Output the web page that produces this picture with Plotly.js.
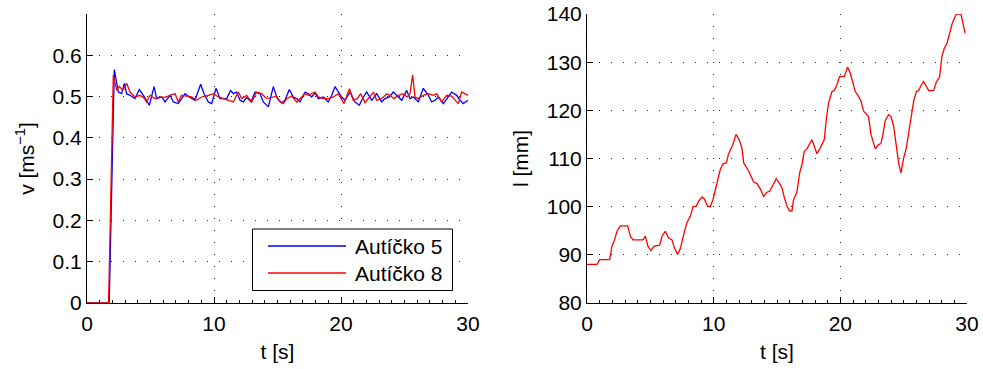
<!DOCTYPE html>
<html>
<head>
<meta charset="utf-8">
<script src="https://cdn.plot.ly/plotly-3.0.1.min.js"></script>
<style>
  html, body { margin: 0; padding: 0; background: #fff; }
  #chart { width: 983px; height: 369px; }
</style>
</head>
<body>
<div id="chart"></div>
<script>
// Car speed (left) and distance between cars (right) over time
const seriesNames = ['Autíčko 5', 'Autíčko 8'];

const tCar5 = [0, 1.75, 2.15, 2.47, 2.73, 2.94, 3.12, 3.39, 3.78, 4.12,
  4.44, 4.91, 5.28, 5.49, 5.88, 6.14, 6.54, 6.80, 7.19, 7.72,
  8.11, 8.50, 8.95, 9.21, 9.55, 9.82, 10.16, 10.47, 11.00, 11.31,
  11.52, 11.78, 12.05, 12.31, 12.57, 12.91, 13.23, 13.62, 13.88, 14.28,
  14.67, 14.99, 15.33, 15.59, 15.93, 16.25, 16.51, 16.77, 17.17, 17.43,
  17.69, 17.95, 18.22, 18.61, 19.00, 19.27, 19.53, 19.79, 20.05, 20.32,
  20.71, 21.10, 21.44, 21.76, 22.02, 22.42, 22.81, 23.20, 23.47, 23.81,
  24.12, 24.38, 24.78, 25.17, 25.43, 25.70, 26.09, 26.48, 26.88, 27.14,
  27.40, 27.66, 28.06, 28.45, 28.71, 29.11, 29.37, 29.63, 30.0];
const vCar5 = [0, 0, 0.565, 0.511, 0.507, 0.532, 0.507, 0.503, 0.495, 0.517,
  0.503, 0.479, 0.524, 0.495, 0.499, 0.487, 0.503, 0.487, 0.483, 0.507,
  0.498, 0.491, 0.530, 0.507, 0.487, 0.483, 0.520, 0.495, 0.495, 0.515,
  0.507, 0.511, 0.491, 0.487, 0.498, 0.487, 0.511, 0.507, 0.487, 0.475,
  0.524, 0.495, 0.485, 0.491, 0.517, 0.499, 0.495, 0.487, 0.511, 0.507,
  0.499, 0.509, 0.495, 0.499, 0.487, 0.503, 0.524, 0.511, 0.499, 0.491,
  0.511, 0.487, 0.479, 0.499, 0.511, 0.491, 0.507, 0.487, 0.495, 0.499,
  0.511, 0.503, 0.491, 0.515, 0.495, 0.499, 0.487, 0.520, 0.503, 0.487,
  0.491, 0.499, 0.483, 0.499, 0.511, 0.503, 0.491, 0.483, 0.491];

const tCar8 = [0, 1.7, 2.07, 2.34, 2.55, 2.81, 3.12, 3.39, 3.78, 4.17,
  4.44, 4.70, 4.96, 5.35, 5.75, 6.14, 6.54, 6.93, 7.19, 7.45,
  7.85, 8.24, 8.63, 9.03, 9.55, 9.95, 10.34, 10.74, 11.13, 11.52,
  11.92, 12.18, 12.57, 12.97, 13.36, 13.75, 14.15, 14.54, 14.93, 15.20,
  15.46, 15.72, 16.12, 16.51, 16.90, 17.17, 17.43, 17.69, 17.95, 18.22,
  18.61, 19.00, 19.40, 19.79, 20.24, 20.66, 20.97, 21.29, 21.55, 21.89,
  22.28, 22.55, 22.81, 23.20, 23.60, 23.86, 24.17, 24.51, 24.86, 25.22,
  25.43, 25.64, 25.83, 26.09, 26.48, 26.88, 27.27, 27.53, 27.93, 28.32,
  28.71, 28.98, 29.24, 29.50, 30.0];
const vCar8 = [0, 0, 0.552, 0.515, 0.525, 0.515, 0.532, 0.511, 0.499, 0.503,
  0.498, 0.487, 0.503, 0.495, 0.499, 0.498, 0.503, 0.507, 0.487, 0.503,
  0.501, 0.499, 0.491, 0.499, 0.503, 0.507, 0.499, 0.495, 0.491, 0.487,
  0.511, 0.495, 0.503, 0.487, 0.511, 0.507, 0.495, 0.498, 0.501, 0.487,
  0.483, 0.495, 0.501, 0.487, 0.499, 0.507, 0.503, 0.507, 0.511, 0.499,
  0.495, 0.495, 0.499, 0.507, 0.483, 0.519, 0.491, 0.495, 0.507, 0.485,
  0.499, 0.511, 0.491, 0.495, 0.507, 0.503, 0.495, 0.503, 0.507, 0.499,
  0.507, 0.552, 0.499, 0.495, 0.503, 0.507, 0.503, 0.507, 0.487, 0.503,
  0.501, 0.491, 0.483, 0.511, 0.503];

const tGap = [0, 0.79, 0.99, 1.79, 1.97, 2.15, 2.37, 2.63, 3.21, 3.42,
  3.63, 4.42, 4.60, 4.81, 5.05, 5.31, 5.73, 5.92, 6.18, 6.45,
  6.71, 6.89, 7.15, 7.37, 7.63, 7.89, 8.16, 8.37, 8.63, 8.81,
  9.08, 9.26, 9.52, 9.73, 9.95, 10.26, 10.52, 10.73, 11.0, 11.18,
  11.52, 11.76, 12.02, 12.23, 12.37, 12.76, 13.16, 13.42, 13.68, 13.94,
  14.21, 14.42, 14.68, 14.94, 15.21, 15.39, 15.57, 15.79, 16.0, 16.18,
  16.31, 16.57, 16.79, 16.97, 17.15, 17.36, 17.76, 17.97, 18.15, 18.42,
  18.73, 18.89, 19.07, 19.34, 19.52, 19.73, 19.94, 20.31, 20.57, 20.79,
  21.0, 21.18, 21.44, 21.63, 21.84, 22.05, 22.23, 22.42, 22.57, 22.76,
  23.02, 23.21, 23.36, 23.55, 23.81, 24.0, 24.21, 24.47, 24.6, 24.79,
  25.0, 25.21, 25.39, 25.57, 25.79, 26.0, 26.18, 26.36, 26.57, 26.79,
  26.97, 27.36, 27.57, 27.84, 28.02, 28.21, 28.42, 28.63, 28.84, 29.15,
  29.52, 29.85];
const lGap = [88, 88, 89, 89, 91.8, 92.9, 94.9, 96, 96, 93.9,
  93.1, 93.1, 93.9, 91.8, 90.9, 91.8, 92, 93.8, 94.9, 93.5,
  93.1, 91.5, 90.1, 91.3, 94.2, 96.7, 98.0, 100, 100.1, 101.1,
  102.0, 101.6, 100.1, 100, 101.5, 104.7, 107.7, 108.9, 109.1, 111.0,
  112.9, 115.0, 113.9, 112.2, 109.1, 107.4, 105.1, 104.8, 103.7, 102.1,
  103.0, 103.2, 104.6, 105.8, 104.8, 103.9, 102.0, 100.1, 99.1, 99.1,
  101.5, 103.0, 107.0, 108.7, 111.5, 112.0, 113.9, 112.2, 111.0, 112.2,
  113.9, 118.1, 121.5, 123.9, 124.1, 125.3, 127.0, 127.0, 129.0, 127.7,
  125.8, 123.9, 122.9, 121.9, 119.8, 119.1, 118.7, 115.0, 113.4, 112.0,
  112.9, 113.1, 115.0, 117.9, 119.1, 118.7, 116.7, 111.8, 109.1, 107.0,
  110.1, 112.2, 115.3, 119.1, 121.9, 123.9, 124.1, 125.1, 126.0, 125.0,
  124.1, 124.1, 125.8, 127.0, 131.2, 132.9, 133.9, 136.0, 138.1, 140,
  140, 136.0];

const tTicks = [0, 10, 20, 30];
const vTicks = [0, 0.1, 0.2, 0.3, 0.4, 0.5, 0.6];
const vTickText = ['0', '0.1', '0.2', '0.3', '0.4', '0.5', '0.6'];
const lTicks = [80, 90, 100, 110, 120, 130, 140];

const BLUE = '#0000ff', RED = '#ff0000';
const FONT = { family: 'Liberation Sans, Arial, Helvetica, sans-serif', size: 21, color: '#000' };
const W = 983, H = 369, MT = 14, MB = 66;
const plotH = H - MT - MB;

const traces = [
  { x: tCar5, y: vCar5, type: 'scatter', mode: 'lines', name: seriesNames[0],
    line: { color: BLUE, width: 1.3 }, xaxis: 'x', yaxis: 'y' },
  { x: tCar8, y: vCar8, type: 'scatter', mode: 'lines', name: seriesNames[1],
    line: { color: RED, width: 1.3 }, xaxis: 'x', yaxis: 'y' },
  { x: tGap, y: lGap, type: 'scatter', mode: 'lines', name: 'l',
    line: { color: RED, width: 1.3 }, xaxis: 'x2', yaxis: 'y2' }
];

function axisBase() {
  return {
    showline: true, linecolor: '#000', linewidth: 1,
    ticks: 'inside', ticklen: 6, tickcolor: '#000', tickwidth: 1,
    showgrid: true, gridcolor: '#222', gridwidth: 1, griddash: '1px,11px',
    zeroline: false, tickfont: FONT, mirror: false, fixedrange: true
  };
}

const xMinor = { dtick: 1, ticks: 'inside', ticklen: 3, tickcolor: '#000', showgrid: false };

// pixel helpers for the hand-built legend box (paper coordinates)
const px = v => v / W;
const py = v => (H - MB - v) / plotH;

const layout = {
  width: W, height: H,
  margin: { l: 0, r: 0, t: MT, b: MB },
  paper_bgcolor: '#fff', plot_bgcolor: '#fff',
  showlegend: false,
  font: FONT,
  xaxis: Object.assign(axisBase(), {
    domain: [87 / W, 468 / W], range: [0, 30], tickvals: tTicks, anchor: 'y',
    minor: xMinor, ticklabelstandoff: 2,
    title: { text: 't [s]', font: FONT, standoff: 10 }
  }),
  yaxis: Object.assign(axisBase(), {
    domain: [0, 1], range: [0, 0.7], tickvals: vTicks, ticktext: vTickText, anchor: 'x',
    title: { text: 'v [ms<sup>−1</sup>]', font: FONT, standoff: 12 }
  }),
  xaxis2: Object.assign(axisBase(), {
    domain: [587 / W, 967 / W], range: [0, 30], tickvals: tTicks, anchor: 'y2',
    minor: xMinor, ticklabelstandoff: 2,
    title: { text: 't [s]', font: FONT, standoff: 10 }
  }),
  yaxis2: Object.assign(axisBase(), {
    domain: [0, 1], range: [80, 140], tickvals: lTicks, anchor: 'x2',
    title: { text: 'l [mm]', font: FONT, standoff: 12 }
  }),
  shapes: [
    { type: 'rect', xref: 'paper', yref: 'paper', x0: px(252.5), x1: px(452.5), y0: py(290.5), y1: py(229),
      line: { color: '#000', width: 1 }, fillcolor: '#fff', layer: 'above' },
    { type: 'line', xref: 'paper', yref: 'paper', x0: px(268), x1: px(346), y0: py(246), y1: py(246),
      line: { color: BLUE, width: 1.3 }, layer: 'above' },
    { type: 'line', xref: 'paper', yref: 'paper', x0: px(268), x1: px(346), y0: py(273), y1: py(273),
      line: { color: RED, width: 1.3 }, layer: 'above' }
  ],
  annotations: [
    { xref: 'paper', yref: 'paper', x: px(353), y: py(246), xanchor: 'left', yanchor: 'middle',
      text: seriesNames[0], showarrow: false, font: FONT },
    { xref: 'paper', yref: 'paper', x: px(353), y: py(273), xanchor: 'left', yanchor: 'middle',
      text: seriesNames[1], showarrow: false, font: FONT }
  ]
};

Plotly.newPlot('chart', traces, layout, { displayModeBar: false, staticPlot: true });
</script>
</body>
</html>
